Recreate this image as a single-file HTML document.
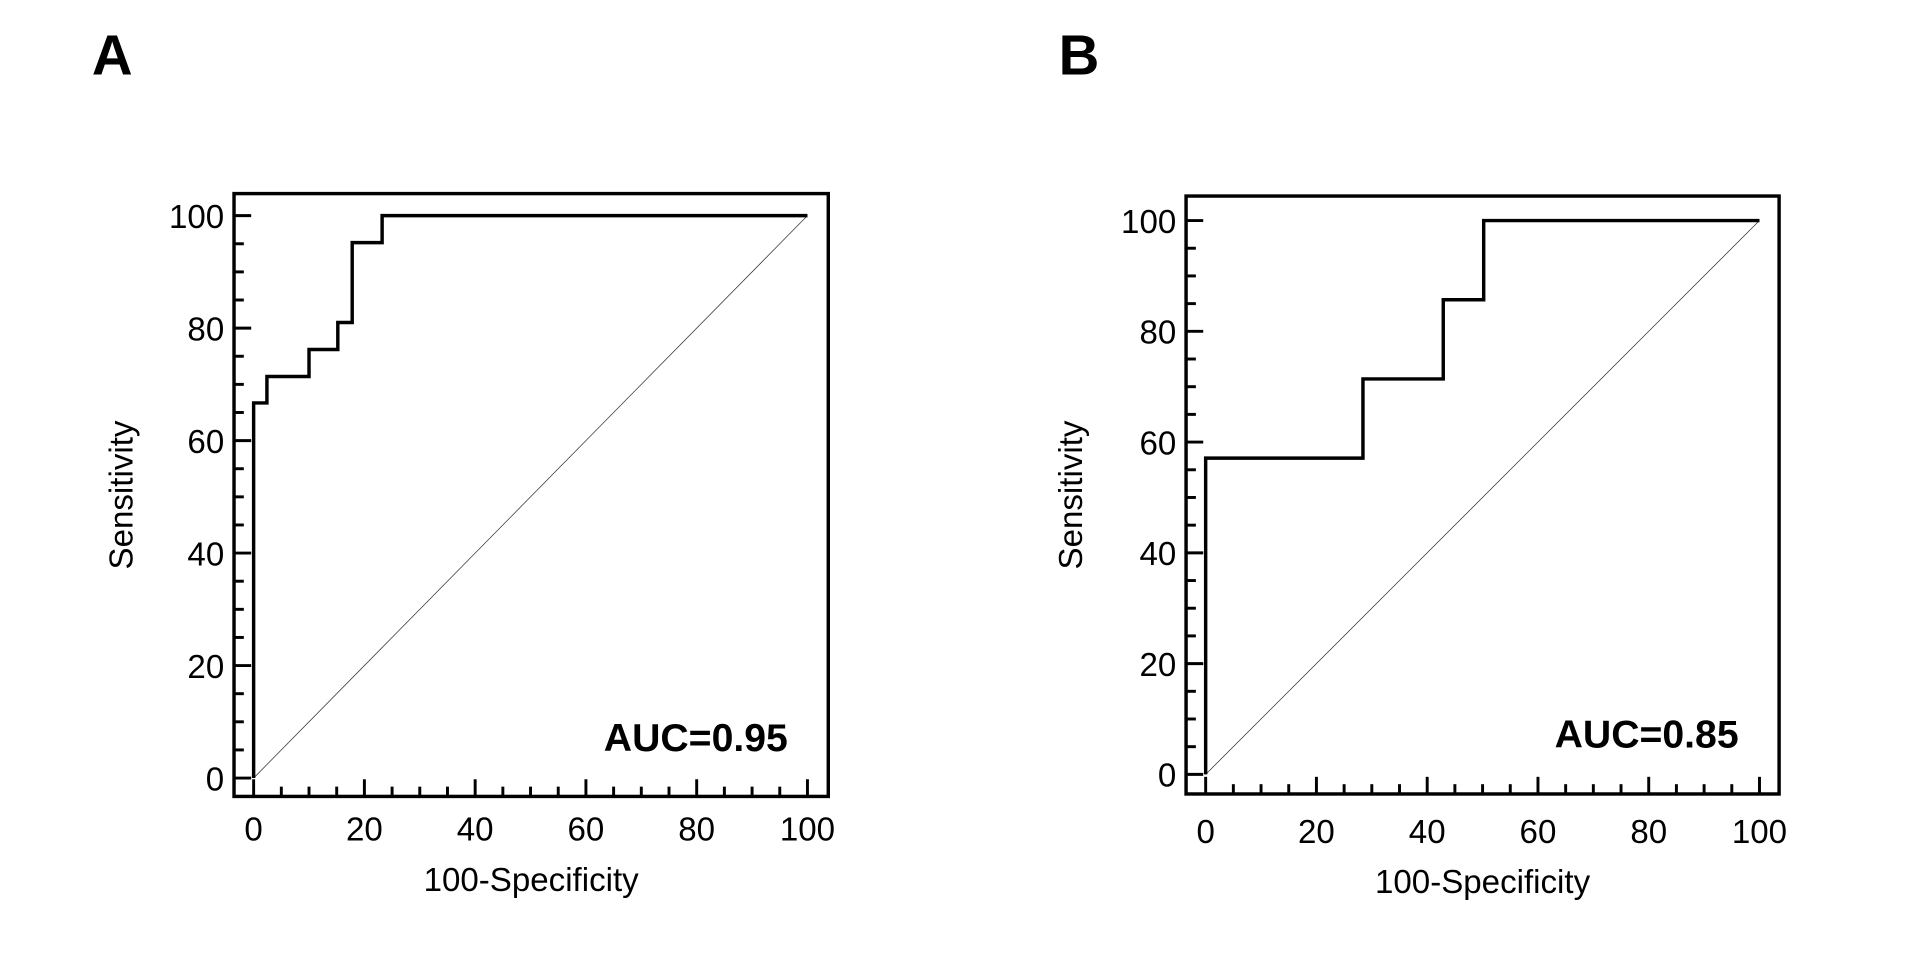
<!DOCTYPE html>
<html><head><meta charset="utf-8"><style>
html,body{margin:0;padding:0;background:#fff;}
svg{display:block;font-family:"Liberation Sans",Arial,sans-serif;}
</style></head><body>
<svg id="s" width="1920" height="954" viewBox="0 0 1567 778.6" preserveAspectRatio="none" xmlns="http://www.w3.org/2000/svg">
<rect x="0" y="0" width="1567" height="778.6" fill="#fff"/>
<text x="75" y="61" font-size="46" font-weight="bold">A</text>
<text x="864" y="61" font-size="46" font-weight="bold">B</text>
</svg>
<script>
const NS="http://www.w3.org/2000/svg",S=document.getElementById('s');
function el(t,a,txt){const e=document.createElementNS(NS,t);for(const k in a)e.setAttribute(k,a[k]);if(txt!==undefined)e.textContent=txt;S.appendChild(e);return e;}
function panel(P){
 const X=v=>P.x0+(P.x1-P.x0)*v/100, Y=v=>P.y0+(P.y1-P.y0)*v/100;
 el('rect',{x:P.L,y:P.T,width:P.R-P.L,height:P.B-P.T,fill:'none',stroke:'#000','stroke-width':2.8});
 for(let v=0;v<=100;v+=5){
  const maj=v%20==0, len=maj?14:8;
  el('line',{x1:X(v),x2:X(v),y1:P.B,y2:P.B-len,stroke:'#000','stroke-width':2.4});
  el('line',{x1:P.L,x2:P.L+len,y1:Y(v),y2:Y(v),stroke:'#000','stroke-width':2.4});
  if(maj){
   el('text',{x:X(v),y:P.B+36+P.dy,'font-size':27,'text-anchor':'middle'},v);
   el('text',{x:P.L-8,y:Y(v)+10,'font-size':27,'text-anchor':'end'},v);
  }
 }
 el('line',{x1:X(0),y1:Y(0),x2:X(100),y2:Y(100),stroke:'#333','stroke-width':0.6});
 el('polyline',{points:P.pts.map(p=>X(p[0])+','+Y(p[1])).join(' '),fill:'none',stroke:'#000','stroke-width':2.8,'stroke-linejoin':'miter'});
 el('text',{x:(P.L+P.R)/2,y:P.B+77+P.dy,'font-size':27,'text-anchor':'middle'},'100-Specificity');
 el('text',{x:0,y:0,'font-size':27,'text-anchor':'middle',transform:`translate(${P.sx},${(P.T+P.B)/2}) rotate(-90)`},'Sensitivity');
 el('text',{x:P.R-33,y:Y(0)-22,'font-size':32,'font-weight':'bold','text-anchor':'end'},P.auc);
}
panel({L:191,T:158,R:676,B:650,x0:207,x1:659,y0:635,y1:176,sx:108,dy:0,auc:'AUC=0.95',
 pts:[[0,0],[0,66.7],[2.4,66.7],[2.4,71.4],[10,71.4],[10,76.2],[15.2,76.2],[15.2,81],[17.8,81],[17.8,95.2],[23.2,95.2],[23.2,100],[100,100]]});
panel({L:968,T:160,R:1452,B:648,x0:984,x1:1436,y0:632,y1:180,sx:883,dy:4,auc:'AUC=0.85',
 pts:[[0,0],[0,57.1],[28.4,57.1],[28.4,71.4],[42.9,71.4],[42.9,85.7],[50.2,85.7],[50.2,100],[100,100]]});
</script>
</body></html>
